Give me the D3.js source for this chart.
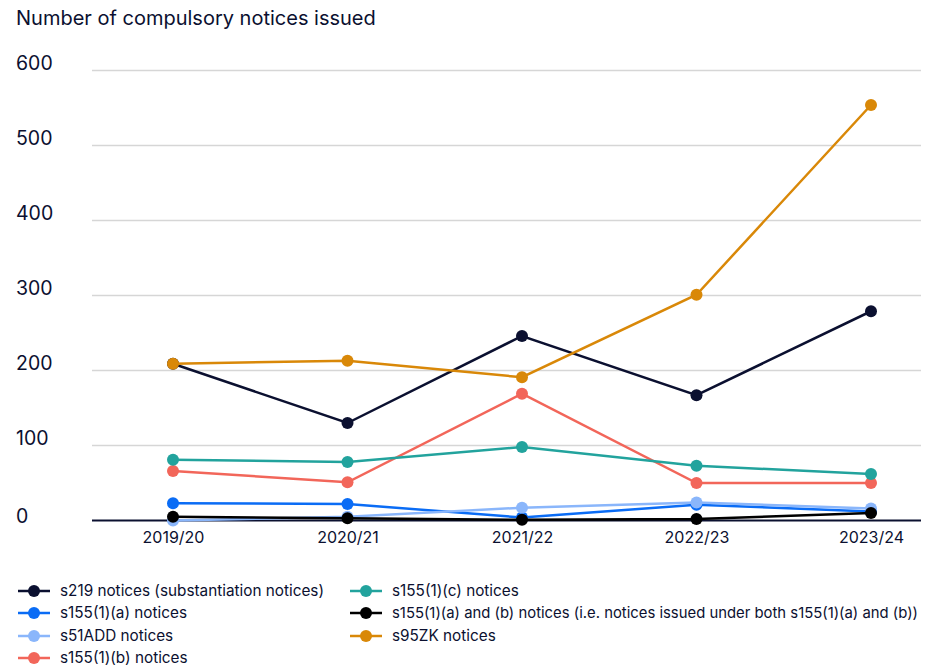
<!DOCTYPE html>
<html><head><meta charset="utf-8">
<script src="https://cdn.jsdelivr.net/npm/d3@7/dist/d3.min.js"></script>
<style>body{margin:0;background:#fff;font-family:Inter,"Noto Sans",sans-serif;}</style>
</head><body><svg id="c" width="931" height="669"></svg>
<script>
const categories = ["2019/20","2020/21","2021/22","2022/23","2023/24"];
const yTicks = [0,100,200,300,400,500,600];
const seriesNames = [
  "s219 notices (substantiation notices)",
  "s155(1)(a) notices",
  "s51ADD notices",
  "s155(1)(b) notices",
  "s155(1)(c) notices",
  "s155(1)(a) and (b) notices (i.e. notices issued under both s155(1)(a) and (b))",
  "s95ZK notices"
];
const s219 = [209,130,246,167,279];
const s155a = [23,22,4,21,12];
const s51ADD = [0,5,17,24,16];
const s155b = [66,51,169,50,50];
const s155c = [81,78,98,73,62];
const s155ab = [5,3,1,2,10];
const s95ZK = [209,213,191,301,554];
const seriesValues = [s219,s155a,s51ADD,s155b,s155c,s155ab,s95ZK];
const colors = ["#0b1030","#0a6cf5","#8ab6fb","#f2665a","#22a39d","#000000","#d98808"];

const svg = d3.select("#c");
const x = d3.scalePoint().domain(categories).range([173,871]);
const y = d3.scaleLinear().domain([0,600]).range([520.5,70.5]);
const textCol = "#0b1030";

svg.append("text").attr("x",16).attr("y",25).attr("font-size",20).attr("fill",textCol).text("Number of compulsory notices issued");

// grid
svg.append("g").selectAll("line").data(yTicks.filter(d=>d>0)).join("line")
  .attr("x1",92).attr("x2",921).attr("y1",d=>y(d)).attr("y2",d=>y(d))
  .attr("stroke","#d6d6d6").attr("stroke-width",1.5);
svg.append("g").selectAll("text").data(yTicks).join("text")
  .attr("x",16).attr("y",d=> d===0 ? y(d)+2 : y(d)-1).attr("font-size",19.5).attr("fill",textCol)
  .text(d=>d);

// axis
const xa = svg.append("g").attr("transform","translate(0,520.5)").call(d3.axisBottom(x).tickSize(0).tickPadding(11));
xa.select(".domain").remove();
xa.selectAll("text").attr("font-size",16).attr("fill",textCol).attr("font-family","Inter,'Noto Sans',sans-serif");
svg.append("line").attr("x1",92).attr("x2",921).attr("y1",520.5).attr("y2",520.5).attr("stroke",textCol).attr("stroke-width",2);

const line = d3.line().x((d,i)=>x(categories[i])).y(d=>y(d));
seriesValues.forEach((vals,k)=>{
  const g = svg.append("g");
  g.append("path").attr("d",line(vals)).attr("fill","none").attr("stroke",colors[k]).attr("stroke-width",2.5);
  g.selectAll("circle").data(vals).join("circle")
    .attr("cx",(d,i)=>x(categories[i])).attr("cy",d=>y(d)).attr("r",6).attr("fill",colors[k]);
});

// legend
const legPos = [[18,591],[18,613],[18,636],[18,658],[350,591],[350,613],[350,636]];
seriesNames.forEach((n,k)=>{
  const [lx,ly] = legPos[k];
  const g = svg.append("g");
  g.append("line").attr("x1",lx).attr("x2",lx+32).attr("y1",ly).attr("y2",ly).attr("stroke",colors[k]).attr("stroke-width",2.5);
  g.append("circle").attr("cx",lx+16).attr("cy",ly).attr("r",6).attr("fill",colors[k]);
  const t = g.append("text").attr("x",lx+42).attr("y",ly+5).attr("font-size",k === 5 ? 15 : 15.3).attr("fill",textCol).text(n);
  if (k === 5) t.attr("textLength",526).attr("lengthAdjust","spacingAndGlyphs");
});
</script></body></html>
